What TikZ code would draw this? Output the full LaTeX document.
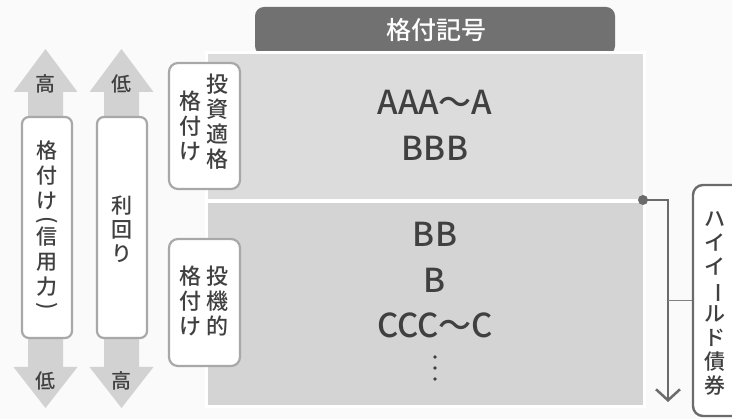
\documentclass[tikz,border=0pt]{standalone}
\usepackage{fontspec}
\setmainfont{Noto Sans CJK JP Medium}
\usetikzlibrary{arrows.meta}
\definecolor{bg}{HTML}{FAFAFA}
\definecolor{hdr}{HTML}{717171}
\definecolor{panA}{HTML}{DCDCDC}
\definecolor{panB}{HTML}{D4D4D4}
\definecolor{arr}{HTML}{D2D2D2}
\definecolor{txt}{HTML}{404040}
\definecolor{bord}{HTML}{A8A8A8}
\definecolor{con}{HTML}{6B6B6B}
\newcommand{\vchoon}{\rotatebox[origin=c]{-90}{ー}}
\newcommand{\vlp}{\rotatebox[origin=c]{-90}{(}}
\newcommand{\vrp}{\rotatebox[origin=c]{-90}{)}}
\begin{document}
\begin{tikzpicture}[x=1pt,y=-1pt,
  tx/.style={text=txt, inner sep=0pt, align=center},
  vtx/.style={text=txt, inner sep=0pt, align=center, font=\fontsize{22}{25}\selectfont},
  big/.style={text=txt, inner sep=0pt, font=\fontsize{33}{33}\selectfont},
  wbox/.style={draw=bord, line width=2.2pt, fill=white, rounded corners=7pt, inner sep=0pt},
  panel/.style={draw=white, line width=3pt, inner sep=0pt, anchor=north west}]
\fill[bg] (0,0) rectangle (732,419);
\useasboundingbox (0,0) rectangle (732,419);

% header tab
\fill[hdr, rounded corners=9pt] (255,55) -- (255,7) -- (615,7) -- (615,55) -- cycle;
\node[tx, text=white, font=\fontsize{25}{25}\selectfont] (head) at (436,30) {格付記号};

% panels
\node[panel, fill=panA, minimum width=438pt, minimum height=148pt] (top) at (205,51.5) {};
\node[panel, fill=panB, minimum width=438pt, minimum height=205pt] (bot) at (205,200.5) {};

% panel texts
\node[big] (aaa) at (435,102) {AAA～A};
\node[big] (bbb) at (435,148) {BBB};
\node[big] (bb) at (435,234) {BB};
\node[big] (b) at (435,280) {B};
\node[big] (ccc) at (435,325) {CCC～C};
\fill[txt] (435,357) circle (1.8) (435,368) circle (1.8) (435,379) circle (1.8);

% left arrows
\fill[arr] (45.5,49) -- (77.5,92) -- (63,92) -- (63,367) -- (77.5,367) -- (45.5,408) -- (13.5,367) -- (28,367) -- (28,92) -- (13.5,92) -- cycle;
\fill[arr] (121.5,49) -- (153.5,92) -- (139,92) -- (139,367) -- (153.5,367) -- (121.5,408) -- (89.5,367) -- (104,367) -- (104,92) -- (89.5,92) -- cycle;
\node[tx, font=\fontsize{20}{20}\selectfont] (hi1) at (45.5,84) {高};
\node[tx, font=\fontsize{20}{20}\selectfont] (lo1) at (45.5,381) {低};
\node[tx, font=\fontsize{20}{20}\selectfont] (lo2) at (121.5,84) {低};
\node[tx, font=\fontsize{20}{20}\selectfont] (hi2) at (121.5,381) {高};

\node[wbox, minimum width=50pt, minimum height=221pt] (cr) at (47,227.5) {};
\node[vtx, font=\fontsize{21}{25}\selectfont] (crt) at (47,227) {格\\付\\け\\[-7pt]\vlp\\[-7pt]信\\用\\力\\[-7pt]\vrp};
\node[wbox, minimum width=50pt, minimum height=221pt] (yl) at (122,227.5) {};
\node[vtx, font=\fontsize{21}{24}\selectfont] (ylt) at (122,229) {利\\回\\り};

% label boxes
\node[wbox, rounded corners=9pt, minimum width=71pt, minimum height=126pt] (ig) at (204.5,126) {};
\node[vtx] (ig1) at (217,121.5) {投\\資\\適\\格};
\node[vtx] (ig2) at (190,125.5) {格\\付\\け};
\node[wbox, rounded corners=9pt, minimum width=71pt, minimum height=127pt] (sg) at (204.5,302.5) {};
\node[vtx] (sg1) at (217,301) {投\\機\\的};
\node[vtx] (sg2) at (190,301) {格\\付\\け};

% right box and connector
\node[draw=con, line width=2.4pt, fill=white, rounded corners=10pt, inner sep=0pt,
      minimum width=54pt, minimum height=231pt] (hy) at (720,300.5) {};
\node[vtx, font=\fontsize{21}{23.9}\selectfont] (hyt) at (715,303.5) {ハ\\イ\\イ\\\vchoon\\ル\\ド\\債\\券};
\coordinate (dot) at (643,200);
\coordinate (endp) at (668,402);
\draw[con, line width=2.5pt, -{Straight Barb[length=11pt,width=24pt,line width=2.5pt]}] (dot) -| (endp);
\fill[con] (dot) circle (5pt);
\draw[con!85, line width=1.3pt] (hy.west -| endp) -- (hy.west);
\end{tikzpicture}
\end{document}
